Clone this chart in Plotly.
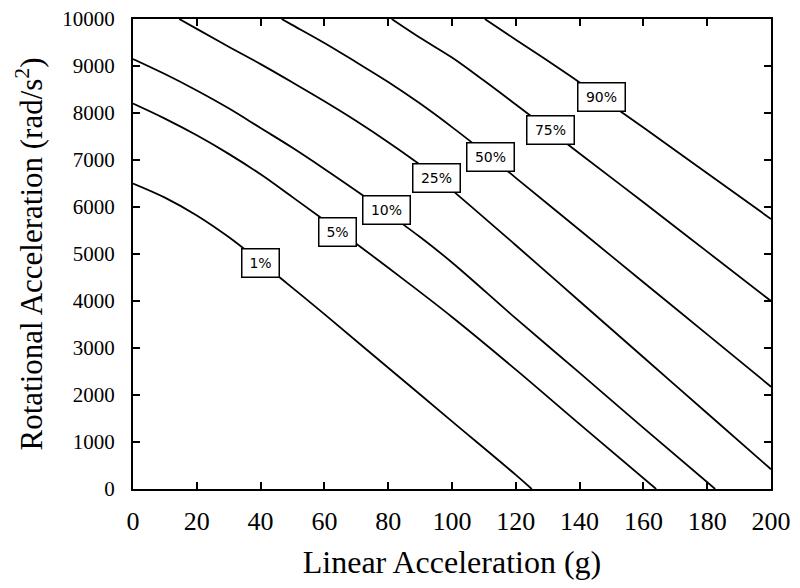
import plotly.graph_objects as go

# iso-risk curves: linear acc (g) -> rotational acc (rad/s^2)
p1_x = [0, 10, 20, 30, 40, 50, 60, 80, 100, 120, 125]
p1_y = [6500, 6200, 5820, 5360, 4830, 4280, 3720, 2580, 1440, 300, 0]

p5_x = [0, 10, 20, 30, 40, 50, 60, 70, 85, 100, 120, 140, 164]
p5_y = [8200, 7880, 7525, 7130, 6695, 6210, 5720, 5220, 4450, 3660, 2540, 1380, 0]

p10_x = [0, 10, 20, 30, 40, 50, 60, 72, 80, 90, 100, 120, 140, 160, 182.5]
p10_y = [9150, 8830, 8480, 8100, 7680, 7260, 6810, 6250, 5860, 5360, 4820, 3630, 2470, 1300, 0]

p25_x = [14.5, 20, 30, 40, 50, 60, 70, 80, 90, 95, 100, 120, 140, 160, 180, 200]
p25_y = [10000, 9790, 9410, 9040, 8650, 8250, 7830, 7380, 6900, 6640, 6360, 5187, 3995, 2803, 1611, 420]

p50_x = [46.6, 50, 60, 70, 80, 90, 100, 112, 120, 140, 160, 180, 200]
p50_y = [10000, 9870, 9490, 9080, 8660, 8200, 7700, 7064, 6620, 5510, 4400, 3290, 2177]

p75_x = [81.1, 90, 100, 110, 120, 131, 140, 160, 180, 200]
p75_y = [10000, 9600, 9180, 8690, 8180, 7610, 7140, 6100, 5050, 4000]

p90_x = [110.3, 120, 130, 140, 150, 160, 180, 200]
p90_y = [10000, 9560, 9110, 8650, 8170, 7690, 6720, 5745]

labels = ['1%', '5%', '10%', '25%', '50%', '75%', '90%']
label_x = [40.1, 64.1, 79.5, 95, 112.2, 131, 147]
label_y = [4809, 5468, 5926, 6617, 7064, 7638, 8340]

curves = [(p1_x, p1_y), (p5_x, p5_y), (p10_x, p10_y), (p25_x, p25_y),
          (p50_x, p50_y), (p75_x, p75_y), (p90_x, p90_y)]

fig = go.Figure()
for (cx, cy), name in zip(curves, labels):
    fig.add_trace(go.Scatter(x=cx, y=cy, mode='lines', name=name,
                             line=dict(color='black', width=1.8, shape='spline', smoothing=1.0),
                             showlegend=False))

for lab, lx, ly in zip(labels, label_x, label_y):
    w = 32 if len(lab) == 2 else 42
    fig.add_annotation(x=lx, y=ly, text=lab, showarrow=False,
                       font=dict(family='DejaVu Sans', size=14, color='black'),
                       bgcolor='white', bordercolor='black', borderwidth=1.5,
                       borderpad=2, width=w, height=23)

axis_style = dict(showline=True, linecolor='black', linewidth=2, mirror='ticks',
                  ticks='inside', ticklen=7, tickwidth=1.5, tickcolor='black',
                  showgrid=False, zeroline=False, automargin=False,
                  ticklabeloverflow='allow')

fig.update_xaxes(range=[0, 200], dtick=20, ticklabelstandoff=8,
                 tickfont=dict(family='Liberation Serif', size=26, color='black'),
                 title=dict(text='Linear Acceleration (g)',
                            font=dict(family='Liberation Serif', size=32, color='black'), standoff=16),
                 **axis_style)
fig.update_yaxes(range=[0, 10000], dtick=1000, tickformat='d', ticklabelstandoff=12,
                 tickfont=dict(family='Liberation Serif', size=21, color='black'),
                 title=dict(text='Rotational Acceleration (rad/s<sup>2</sup>)',
                            font=dict(family='Liberation Serif', size=31, color='black'), standoff=10),
                 **axis_style)

fig.update_layout(width=784, height=572, plot_bgcolor='white', paper_bgcolor='white',
                  margin=dict(l=125, r=21, t=11, b=91))

fig.write_html('out.html')
